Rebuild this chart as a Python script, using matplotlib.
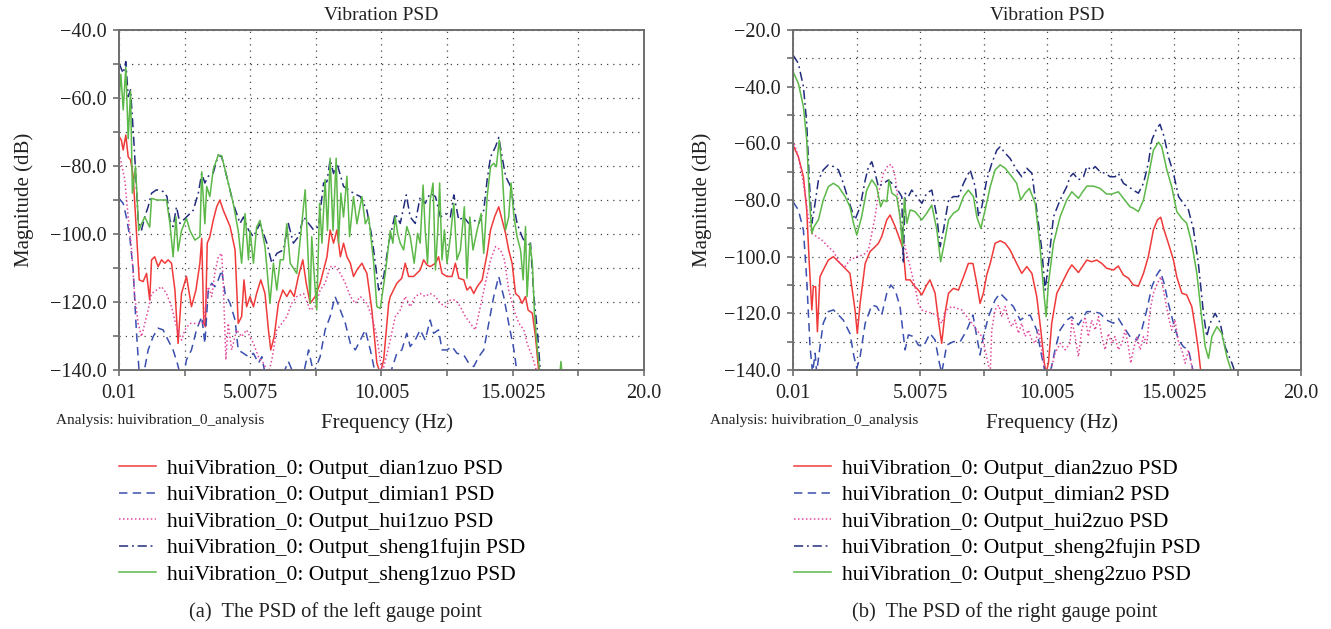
import matplotlib
matplotlib.use("Agg")
import matplotlib.pyplot as plt
import numpy as np
from matplotlib.lines import Line2D

plt.rcParams["font.family"] = ["Liberation Serif", "DejaVu Serif"]

# ---- axis ticks ----
x_ticks = [0.01, 5.0075, 10.005, 15.0025, 20.0]
x_tick_labels = ["0.01", "5.0075", "10.005", "15.0025", "20.0"]
x_minor_ticks = [2.50875, 7.50625, 12.50375, 17.50125]
left_y_ticks = [-40, -60, -80, -100, -120, -140]
left_y_minor = [-50, -70, -90, -110, -130]
right_y_ticks = [-20, -40, -60, -80, -100, -120, -140]
right_y_minor = [-30, -50, -70, -90, -110, -130]

left_labels = [
    "huiVibration_0: Output_dian1zuo PSD",
    "huiVibration_0: Output_dimian1 PSD",
    "huiVibration_0: Output_hui1zuo PSD",
    "huiVibration_0: Output_sheng1fujin PSD",
    "huiVibration_0: Output_sheng1zuo PSD",
]
right_labels = [
    "huiVibration_0: Output_dian2zuo PSD",
    "huiVibration_0: Output_dimian2 PSD",
    "huiVibration_0: Output_hui2zuo PSD",
    "huiVibration_0: Output_sheng2fujin PSD",
    "huiVibration_0: Output_sheng2zuo PSD",
]

# ---- left gauge point (Hz, dB) ----
left_red = [
    (0.01, -71.2), (0.10, -72.4), (0.17, -75.3), (0.27, -70.9), (0.36, -77.3), (0.45, -78.2),
    (0.55, -83), (0.67, -98.8), (0.78, -113.5), (0.93, -114), (1.06, -111.6), (1.18, -119.4),
    (1.25, -107.6), (1.37, -106.7), (1.50, -109.6), (1.63, -107.6), (1.76, -108.6), (1.88, -107.6),
    (2.01, -108.6), (2.14, -116.5), (2.26, -132.2), (2.39, -117.5), (2.58, -112.5), (2.77, -121.4),
    (2.94, -116.5), (3.09, -108.6), (3.16, -101.3), (3.24, -126.3), (3.30, -127.3), (3.37, -102.7),
    (3.47, -100.8), (3.60, -95.9), (3.73, -92), (3.85, -90), (3.98, -93), (4.24, -97.8),
    (4.43, -104.7), (4.55, -126.3), (4.68, -124.3), (4.77, -113.5), (4.87, -121.4), (5.00, -118.4),
    (5.13, -121.4), (5.25, -117.5), (5.41, -113.5), (5.57, -117.5), (5.70, -128.2), (5.79, -134.1),
    (5.92, -130.2), (6.08, -120.4), (6.25, -116.5), (6.40, -118.4), (6.53, -116.5), (6.68, -118.4),
    (6.84, -112.5), (7.01, -107.6), (7.14, -114.5), (7.29, -120.4), (7.48, -118.4), (7.67, -114.5),
    (7.80, -110.6), (7.93, -106.7), (8.05, -98.8), (8.18, -102.7), (8.31, -98.8), (8.44, -106.7),
    (8.56, -102.7), (8.69, -106.7), (8.82, -108.6), (8.94, -112.5), (9.07, -110.6), (9.26, -108.6),
    (9.45, -111.6), (9.64, -122.4), (9.83, -138), (9.96, -141), (10.09, -137), (10.28, -120.4),
    (10.34, -118.4), (10.59, -114.5), (10.78, -113), (10.91, -108.6), (11.04, -112.5), (11.23, -112.5),
    (11.48, -110.6), (11.61, -107.6), (11.74, -109.1), (11.86, -109.6), (12.06, -108.6), (12.18, -106.7),
    (12.31, -111.6), (12.50, -112.5), (12.69, -112.5), (12.82, -108.6), (12.95, -113), (13.14, -113.5),
    (13.26, -116.5), (13.39, -115.5), (13.52, -117.5), (13.65, -115.5), (13.84, -113.5), (14.03, -105.7),
    (14.16, -98.8), (14.31, -95), (14.47, -92), (14.60, -95.9), (14.73, -99.8), (14.85, -104.7),
    (14.98, -108.6), (15.11, -117.5), (15.24, -118.4), (15.36, -120.4), (15.49, -118.4), (15.59, -122.4),
    (15.75, -123.3), (15.87, -130.2), (16.00, -141),
]
left_blue = [
    (0.01, -89.5), (0.17, -91), (0.29, -95), (0.42, -100.8), (0.55, -110.6), (0.67, -128.2),
    (0.78, -141), (0.93, -142), (1.12, -134.1), (1.31, -130.2), (1.50, -127.7), (1.69, -128.2),
    (1.88, -131.2), (2.07, -134.1), (2.23, -138), (2.33, -141), (2.46, -142), (2.58, -137),
    (2.77, -134.1), (2.96, -128.2), (3.16, -124.3), (3.28, -132.2), (3.41, -116.5), (3.54, -114.5),
    (3.66, -115.5), (3.79, -113.5), (3.92, -110.6), (4.05, -117.5), (4.24, -120.4), (4.43, -125.3),
    (4.55, -134.1), (4.75, -135.1), (4.94, -136.1), (5.13, -135.1), (5.32, -138), (5.45, -136.1),
    (5.57, -141), (6.27, -141), (6.46, -137.5), (6.65, -141), (7.04, -141), (7.23, -134.1),
    (7.42, -141), (7.67, -136.1), (7.86, -128.2), (8.05, -124.3), (8.24, -118.4), (8.44, -122.4),
    (8.63, -126.3), (8.82, -132.2), (9.01, -134.1), (9.20, -131.2), (9.39, -128.2), (9.58, -134.1),
    (9.77, -141), (10.34, -141), (10.47, -138), (10.59, -135.1), (10.78, -134.1), (10.97, -129.2),
    (11.10, -133.1), (11.29, -131.2), (11.48, -128.2), (11.67, -131.2), (11.86, -125.3), (11.99, -129.2),
    (12.18, -128.2), (12.31, -134.1), (12.50, -134.1), (12.69, -133.1), (12.88, -135.1), (13.14, -135.6),
    (13.33, -138), (13.52, -139), (13.71, -136.1), (13.90, -134.1), (14.09, -126.3), (14.28, -118.4),
    (14.47, -112.5), (14.66, -118.4), (14.85, -126.3), (15.05, -134.1), (15.17, -141),
]
left_pink = [
    (0.01, -76.3), (0.10, -79.2), (0.23, -84), (0.36, -95), (0.48, -103.7), (0.61, -118.4),
    (0.74, -126.3), (0.87, -130.2), (0.99, -126.3), (1.12, -122.4), (1.25, -117.5), (1.44, -116.5),
    (1.63, -115.5), (1.82, -117.5), (2.01, -121.4), (2.20, -127.3), (2.39, -131.2), (2.52, -128.2),
    (2.71, -126.3), (2.96, -126.3), (3.22, -126.3), (3.41, -115.5), (3.54, -118.4), (3.66, -111.6),
    (3.79, -106.7), (3.92, -105.7), (3.98, -114.5), (4.08, -137), (4.17, -126.3), (4.30, -134.1),
    (4.49, -128.2), (4.68, -130.2), (4.87, -128.2), (5.13, -132.2), (5.32, -136.1), (5.51, -138),
    (5.70, -141), (5.83, -137), (6.02, -128.2), (6.21, -126.3), (6.40, -124.3), (6.59, -120.4),
    (6.78, -118.4), (7.04, -117.5), (7.29, -122.4), (7.48, -121.4), (7.67, -116.5), (7.86, -114.5),
    (8.05, -109.6), (8.24, -109.6), (8.44, -111.6), (8.63, -114.5), (8.82, -118.4), (9.01, -120.4),
    (9.20, -118.4), (9.45, -120.4), (9.64, -124.3), (9.83, -130.2), (10.03, -141), (10.22, -135.1),
    (10.34, -131.2), (10.53, -124.3), (10.72, -122.4), (10.91, -118.4), (11.10, -121.4), (11.29, -118.4),
    (11.48, -117.5), (11.67, -118.4), (11.86, -117.5), (12.06, -118.4), (12.25, -120.4), (12.44, -121.4),
    (12.63, -119.4), (12.82, -119.4), (13.01, -121.4), (13.20, -124.3), (13.39, -126.3), (13.58, -128.2),
    (13.77, -121.4), (13.96, -114.5), (14.16, -107.6), (14.35, -103.7), (14.54, -104.7), (14.69, -107.6),
    (14.85, -116.5), (15.05, -122.4), (15.24, -126.3), (15.43, -128.2), (15.55, -132.2), (15.75, -136.1),
    (15.94, -141),
]
left_navy = [
    (0.01, -49.8), (0.17, -52.7), (0.27, -49.3), (0.36, -59.6), (0.45, -57.6), (0.55, -69.4),
    (0.64, -81.2), (0.74, -95.9), (0.87, -98.8), (0.99, -95), (1.12, -92), (1.25, -88),
    (1.44, -87), (1.69, -87.5), (1.84, -89), (1.95, -95.9), (2.07, -97.8), (2.20, -92),
    (2.33, -96.9), (2.58, -95), (2.84, -93), (3.03, -88), (3.16, -82.2), (3.28, -85),
    (3.41, -83), (3.60, -82), (3.79, -76.8), (3.92, -77.3), (4.11, -83), (4.36, -91),
    (4.62, -96.9), (4.75, -95), (4.94, -98.8), (5.13, -100.8), (5.38, -96.9), (5.64, -102.7),
    (5.83, -108.6), (6.02, -105.7), (6.27, -104.7), (6.46, -96.9), (6.65, -102.7), (6.84, -100.8),
    (7.04, -95), (7.23, -96.9), (7.42, -98.8), (7.61, -97.8), (7.80, -85), (7.93, -84.6),
    (8.05, -78.2), (8.18, -82.2), (8.31, -79.2), (8.56, -86), (8.75, -87), (8.94, -88),
    (9.20, -89), (9.45, -93), (9.64, -100.8), (9.77, -108.6), (9.90, -116.5), (10.09, -112.5),
    (10.28, -102.7), (10.53, -94), (10.72, -96.9), (10.95, -88.5), (11.10, -95), (11.29, -96.9),
    (11.48, -89), (11.67, -91), (11.86, -88), (12.06, -89), (12.25, -95), (12.44, -94),
    (12.63, -95), (12.76, -88.5), (12.95, -95.9), (13.14, -95), (13.33, -96.9), (13.52, -95.9),
    (13.71, -96.9), (13.90, -93), (14.03, -84), (14.16, -77.3), (14.35, -74.3), (14.47, -71.6),
    (14.60, -77.3), (14.73, -83), (14.92, -86), (15.05, -92), (15.17, -96.9), (15.36, -100.8),
    (15.53, -103.7), (15.68, -102.7), (15.81, -118.4), (15.94, -128.2), (16.06, -141),
]
left_green = [
    (0.01, -61), (0.08, -53), (0.17, -63.5), (0.27, -51), (0.36, -72), (0.45, -58),
    (0.52, -88), (0.64, -80), (0.76, -99), (0.87, -97), (0.99, -95), (1.18, -98),
    (1.25, -89.5), (1.44, -90), (1.82, -90), (1.95, -97), (2.07, -106.7), (2.18, -95),
    (2.26, -105), (2.39, -99), (2.58, -95.4), (2.71, -99), (2.90, -101.8), (3.09, -100.8),
    (3.16, -81.7), (3.28, -97), (3.35, -86), (3.47, -89), (3.60, -81), (3.79, -76.8),
    (3.92, -77), (4.11, -83), (4.36, -91), (4.55, -99), (4.68, -108.6), (4.81, -94),
    (4.94, -107.6), (5.00, -99), (5.13, -108.6), (5.25, -98), (5.38, -96), (5.57, -103.7),
    (5.76, -120.4), (5.89, -108.6), (6.02, -116.5), (6.15, -107.6), (6.27, -107.6), (6.40, -97),
    (6.53, -108.6), (6.78, -111.6), (6.97, -97), (7.10, -87), (7.19, -102.7), (7.29, -120.4),
    (7.35, -100.8), (7.44, -111.6), (7.54, -122.4), (7.65, -91), (7.74, -102.7), (7.86, -84),
    (7.95, -99), (8.05, -77.7), (8.16, -99), (8.28, -77.7), (8.37, -102.7), (8.46, -88),
    (8.56, -95), (8.69, -83), (8.79, -100.8), (8.94, -89), (9.07, -97), (9.26, -89),
    (9.39, -97), (9.52, -95), (9.71, -108.6), (9.83, -121.4), (9.96, -121.9), (10.15, -111.6),
    (10.34, -99), (10.44, -102.7), (10.53, -95), (10.62, -99.8), (10.72, -102.7), (10.85, -104.7),
    (10.97, -97.8), (11.10, -100.8), (11.25, -108.6), (11.38, -99.8), (11.48, -102.7), (11.59, -85.6),
    (11.67, -98.8), (11.76, -108.6), (11.86, -90), (11.97, -85), (12.06, -110.6), (12.15, -98.8),
    (12.22, -85), (12.31, -107.6), (12.40, -98.8), (12.50, -108.6), (12.63, -100.8), (12.76, -91),
    (12.88, -107.6), (13.01, -104.7), (13.16, -92), (13.26, -113), (13.37, -95), (13.49, -104.7),
    (13.65, -98.8), (13.80, -94), (13.90, -105.7), (14.03, -89), (14.16, -80.2), (14.28, -79.2),
    (14.38, -80.2), (14.49, -72.4), (14.60, -81.2), (14.73, -98.8), (14.85, -95), (14.94, -85),
    (15.05, -95), (15.17, -100.8), (15.30, -104.7), (15.40, -113.5), (15.49, -97.8), (15.55, -118.4),
    (15.66, -102.7), (15.75, -108.6), (15.83, -123.3), (15.94, -134), (16.04, -141),
    (16.40, np.nan), (16.80, -141), (16.84, -137.5), (16.88, -141),
]

# ---- right gauge point (Hz, dB) ----
right_red = [
    (0.01, -60.6), (0.22, -64.7), (0.42, -71.8), (0.55, -83.5), (0.65, -102.4), (0.75, -118.8),
    (0.81, -110.6), (0.90, -110.6), (0.97, -126.5), (1.07, -107.1), (1.20, -104.7), (1.40, -101.2),
    (1.60, -100), (1.80, -101.8), (1.99, -103.5), (2.25, -105.9), (2.45, -118.8), (2.54, -127.1),
    (2.65, -116.5), (2.85, -102.4), (3.04, -98.2), (3.24, -96.5), (3.37, -95.3), (3.50, -92.9),
    (3.70, -87), (3.83, -85.3), (4.03, -89.4), (4.22, -94.1), (4.35, -97.6), (4.45, -108.2),
    (4.62, -108.2), (4.81, -110.6), (4.94, -111.8), (5.08, -113.5), (5.27, -110), (5.40, -108.2),
    (5.60, -112.9), (5.73, -122.4), (5.86, -130.6), (5.99, -120), (6.13, -112.9), (6.32, -111.2),
    (6.52, -111.8), (6.72, -107.1), (6.91, -102.4), (7.09, -102.4), (7.24, -109.4), (7.37, -116.5),
    (7.50, -112.9), (7.63, -106.5), (7.77, -102.4), (7.96, -95.3), (8.16, -94.4), (8.36, -95.3),
    (8.55, -97.6), (8.81, -102.4), (9.01, -105.9), (9.21, -103.5), (9.41, -105.9), (9.60, -114.1),
    (9.76, -125.9), (9.90, -137.6), (9.97, -141), (10.06, -137.6), (10.19, -123.5), (10.39, -112.9),
    (10.59, -109.4), (10.85, -104.7), (10.98, -102.9), (11.24, -105.6), (11.57, -101.2), (11.76, -101.8),
    (11.96, -101.2), (12.16, -102.4), (12.35, -104.1), (12.62, -104.7), (12.81, -103.3), (13.01, -106.5),
    (13.21, -107.6), (13.40, -110), (13.60, -110.4), (13.80, -105.9), (13.99, -100), (14.19, -90.6),
    (14.35, -87), (14.48, -86.1), (14.61, -90.6), (14.78, -95.3), (14.98, -101.2), (15.11, -107.1),
    (15.31, -112.9), (15.50, -113.5), (15.70, -117.6), (15.83, -124.7), (15.96, -132.9), (16.06, -141),
]
right_blue = [
    (0.01, -80.6), (0.22, -83.5), (0.42, -90.6), (0.55, -108.2), (0.68, -131.8), (0.78, -141),
    (0.88, -134.1), (0.94, -141), (1.07, -131.8), (1.20, -123.5), (1.40, -119.4), (1.60, -118.8),
    (1.80, -120.6), (1.99, -122.4), (2.25, -127.1), (2.41, -135.3), (2.52, -139.4), (2.65, -135.3),
    (2.85, -123.5), (3.11, -117.1), (3.30, -117.6), (3.50, -120.6), (3.70, -112.9), (3.86, -110),
    (4.03, -111.8), (4.22, -117.6), (4.42, -132.9), (4.55, -127.6), (4.75, -128.2), (4.94, -131.2),
    (5.14, -131.8), (5.40, -127.1), (5.60, -129.4), (5.77, -137.6), (5.86, -141), (6.06, -131.2),
    (6.32, -130), (6.59, -130), (6.85, -125.9), (7.09, -120.6), (7.24, -128.2), (7.37, -134.7),
    (7.50, -128.2), (7.70, -121.2), (7.96, -115.3), (8.16, -112.9), (8.42, -115.3), (8.68, -117.6),
    (8.95, -122.4), (9.14, -121.2), (9.34, -120.6), (9.60, -125.9), (9.80, -135.3), (9.93, -141),
    (10.13, -141), (10.32, -132.9), (10.52, -125.9), (10.78, -122.4), (10.98, -121.2), (11.24, -124.1),
    (11.57, -119.4), (11.83, -119.4), (12.09, -120), (12.35, -122.4), (12.62, -123.5), (12.81, -121.8),
    (13.01, -124.7), (13.27, -128.2), (13.54, -129.4), (13.73, -125.9), (13.93, -118.8), (14.13, -110.6),
    (14.32, -106.5), (14.45, -104.7), (14.61, -109.4), (14.78, -116.5), (14.98, -123.5), (15.18, -129.4),
    (15.37, -131.8), (15.57, -132.9), (15.77, -141),
]
right_pink = [
    (0.01, -58.8), (0.22, -64.7), (0.42, -74.1), (0.61, -85.9), (0.75, -91.8), (0.94, -92.9),
    (1.14, -94.1), (1.40, -96.5), (1.60, -98.2), (1.86, -102.4), (2.06, -103.5), (2.25, -101.2),
    (2.52, -100), (2.78, -99.4), (2.98, -97.6), (3.11, -91.8), (3.24, -85.9), (3.37, -77.6),
    (3.57, -70.6), (3.76, -67.6), (3.90, -67.6), (4.03, -71.8), (4.16, -81.2), (4.29, -91.8),
    (4.42, -96.5), (4.55, -101.2), (4.68, -105.9), (4.81, -110.6), (4.94, -116.5), (5.08, -118.8),
    (5.27, -119.4), (5.47, -120), (5.67, -120.6), (5.86, -123.5), (6.06, -118.8), (6.26, -117.6),
    (6.45, -118.2), (6.65, -118.8), (6.85, -121.2), (7.05, -123.5), (7.24, -125.9), (7.44, -128.2),
    (7.63, -135.3), (7.77, -141), (7.83, -125.9), (7.96, -118.8), (8.10, -117.1), (8.23, -121.2),
    (8.36, -117.6), (8.49, -122.4), (8.62, -124.7), (8.75, -122.4), (8.88, -127.1), (9.01, -123.5),
    (9.14, -128.2), (9.27, -125.9), (9.41, -129.4), (9.54, -130.6), (9.67, -125.9), (9.80, -132.9),
    (9.93, -141), (10.13, -141), (10.32, -134.1), (10.52, -130.6), (10.72, -132.9), (10.91, -130.6),
    (10.98, -122.4), (11.11, -128.2), (11.24, -135.3), (11.37, -125.9), (11.50, -121.2), (11.63, -128.2),
    (11.76, -122.4), (11.90, -125.9), (12.03, -121.2), (12.16, -128.2), (12.29, -132.9), (12.42, -127.1),
    (12.55, -130.6), (12.68, -128.2), (12.81, -132.9), (12.95, -130.6), (13.08, -125.9), (13.21, -131.8),
    (13.30, -137.6), (13.40, -132.9), (13.54, -128.2), (13.67, -132.9), (13.80, -128.2), (13.93, -130.6),
    (14.06, -118.8), (14.19, -112.9), (14.35, -109.4), (14.48, -107.1), (14.61, -112.9), (14.78, -121.2),
    (14.91, -125.9), (15.04, -122.4), (15.18, -130.6), (15.31, -132.9), (15.44, -137.6), (15.57, -132.9),
    (15.70, -138.8), (15.77, -141),
]
right_navy = [
    (0.01, -28.8), (0.22, -31.8), (0.42, -40), (0.55, -53), (0.65, -73), (0.75, -88.2),
    (0.84, -83.5), (1.01, -73), (1.20, -69.4), (1.40, -67.6), (1.60, -68.2), (1.80, -69.4),
    (1.99, -74.1), (2.19, -80), (2.45, -87), (2.65, -82.4), (2.85, -73), (2.98, -68.2),
    (3.11, -66.5), (3.24, -70.6), (3.37, -75.3), (3.57, -74.1), (3.76, -73), (3.90, -74.1),
    (4.09, -75.9), (4.29, -78.8), (4.35, -102.4), (4.42, -77.6), (4.55, -78.8), (4.68, -76.5),
    (4.88, -78.8), (5.08, -81.2), (5.27, -77.6), (5.47, -76.5), (5.67, -85.9), (5.80, -96.5),
    (5.93, -90.6), (6.13, -80), (6.32, -78.8), (6.52, -78.8), (6.72, -74.1), (6.98, -69.4),
    (7.18, -75.3), (7.31, -85.9), (7.44, -82.4), (7.63, -73), (7.83, -67.1), (8.03, -62.4),
    (8.16, -61.2), (8.36, -63.5), (8.55, -65.3), (8.81, -69.4), (9.01, -71.8), (9.21, -68.8),
    (9.41, -70.6), (9.60, -83.5), (9.80, -97.6), (9.93, -111.8), (10.06, -102.4), (10.26, -85.9),
    (10.52, -80), (10.78, -75.3), (10.91, -71.8), (11.04, -70.6), (11.24, -72.9), (11.44, -71.8),
    (11.57, -68.2), (11.76, -69.4), (11.90, -68.2), (12.09, -70), (12.29, -70.6), (12.49, -71.8),
    (12.68, -71.8), (12.81, -70.6), (13.01, -74.1), (13.21, -75.3), (13.40, -76.5), (13.60, -77.6),
    (13.80, -74.1), (13.99, -67.1), (14.13, -58.8), (14.32, -54.7), (14.45, -53.3), (14.61, -57.6),
    (14.78, -64.7), (14.98, -70.6), (15.18, -78.8), (15.37, -81.2), (15.57, -83.5), (15.77, -90.6),
    (15.96, -102.4), (16.16, -120), (16.29, -128.2), (16.42, -123.5), (16.62, -120), (16.82, -123.5),
    (17.01, -131.8), (17.28, -137.6), (17.41, -141),
]
right_green = [
    (0.01, -34.7), (0.22, -38.8), (0.42, -47.1), (0.55, -58.8), (0.65, -78.8), (0.75, -91.8),
    (0.84, -89.4), (1.01, -87), (1.20, -80), (1.40, -75.3), (1.60, -74.1), (1.80, -75.3),
    (2.06, -78.8), (2.25, -82.4), (2.39, -88.2), (2.52, -92.4), (2.71, -85.9), (2.91, -76.5),
    (3.11, -72.9), (3.30, -75.3), (3.46, -82.4), (3.57, -80), (3.70, -80.6), (3.79, -72.9),
    (3.90, -77.6), (4.09, -78.8), (4.22, -85.9), (4.32, -96.5), (4.39, -79.4), (4.49, -88.2),
    (4.62, -83.5), (4.81, -84.1), (5.08, -87), (5.27, -84.7), (5.47, -81.8), (5.67, -90.6),
    (5.82, -101.8), (5.96, -95.3), (6.13, -87), (6.32, -84.7), (6.52, -83.5), (6.72, -78.8),
    (6.91, -76.5), (7.11, -78.8), (7.24, -85.9), (7.40, -90), (7.57, -83.5), (7.77, -75.3),
    (7.96, -69.4), (8.16, -67.6), (8.36, -68.8), (8.62, -71.8), (8.81, -74.1), (8.97, -80),
    (9.14, -77.6), (9.31, -75.9), (9.54, -81.2), (9.73, -96.5), (9.87, -111.8), (9.97, -121.2),
    (10.06, -109.4), (10.26, -95.3), (10.52, -85.9), (10.78, -80), (10.98, -77.1), (11.24, -79.4),
    (11.37, -77.6), (11.57, -75.1), (11.83, -75.1), (12.09, -75.9), (12.35, -77.9), (12.55, -77.9),
    (12.81, -77.1), (13.01, -79.4), (13.27, -82.4), (13.40, -82.9), (13.60, -84.1), (13.80, -80),
    (13.99, -71.8), (14.19, -62.4), (14.39, -59.6), (14.52, -61.2), (14.72, -69.4), (14.91, -75.3),
    (15.11, -84.1), (15.31, -86.5), (15.50, -88.2), (15.70, -95.3), (15.90, -105.9), (16.10, -122.4),
    (16.23, -131.8), (16.36, -135.9), (16.49, -128.2), (16.69, -124.7), (16.88, -127.1), (17.08, -135.3),
    (17.28, -141),
]

# colour, linestyle, linewidth for the five traces (same order as the legend)
styles = [
    ("#f03a3a", "-", 1.1),
    ("#3a4fae", (0, (5.5, 3.5)), 1.1),
    ("#e2479c", (0, (1, 1.6)), 1.1),
    ("#222c7c", (0, (6, 2.5, 1.2, 2.5)), 1.1),
    ("#5cb848", "-", 1.1),
]


def fmt_db(v):
    return f"{v:.1f}".replace("-", "\u2212")


def draw_panel(ax, series, ylim, yticks, yminor):
    for pts, (color, ls, lw) in zip(series, styles):
        arr = np.array(pts, dtype=float)
        ax.plot(arr[:, 0], arr[:, 1], color=color, linestyle=ls, linewidth=lw)

    ax.set_xlim(0.01, 20.0)
    ax.set_ylim(*ylim)
    ax.set_xticks(x_ticks)
    ax.set_xticklabels(x_tick_labels)
    ax.set_xticks(x_minor_ticks, minor=True)
    ax.set_yticks(yticks)
    ax.set_yticklabels([fmt_db(v) for v in yticks])
    ax.set_yticks(yminor, minor=True)

    ax.grid(True, which="both", color="#444444", linestyle=(0, (1, 4)), linewidth=0.9)
    ax.set_axisbelow(True)
    for s in ax.spines.values():
        s.set_color("#6e6e6e")
        s.set_linewidth(1.4)
    ax.tick_params(which="both", direction="out", length=4, width=1.2, color="#6e6e6e",
                   labelsize=14.5, labelcolor="#222222")
    ax.tick_params(axis="x", pad=6)
    ax.tick_params(axis="y", pad=5)

    ax.set_title("Vibration PSD", fontsize=14, pad=7, color="#222222")
    ax.set_xlabel("Frequency (Hz)", fontsize=15, color="#222222")
    ax.xaxis.set_label_coords(0.51, -0.128)
    ax.set_ylabel("Magnitude (dB)", fontsize=15, color="#222222")


def main():
    fig = plt.figure(figsize=(13.31, 6.29), dpi=100)

    ax_l = fig.add_axes([0.0894, 0.4118, 0.3944, 0.5405])
    ax_r = fig.add_axes([0.5958, 0.4118, 0.3817, 0.5405])

    draw_panel(ax_l, [left_red, left_blue, left_pink, left_navy, left_green],
               (-140, -40), left_y_ticks, left_y_minor)
    draw_panel(ax_r, [right_red, right_blue, right_pink, right_navy, right_green],
               (-140, -20), right_y_ticks, right_y_minor)
    ax_l.yaxis.set_label_coords(-0.162, 0.5)
    ax_r.yaxis.set_label_coords(-0.159, 0.5)

    handles = [Line2D([], [], color=c, linestyle=ls, linewidth=lw) for c, ls, lw in styles]
    leg_kw = dict(loc="upper left", frameon=False, fontsize=15.5, handlelength=1.7,
                  handletextpad=0.55, labelspacing=0.3, borderpad=0, borderaxespad=0)
    fig.legend(handles, left_labels, bbox_to_anchor=(0.0894, 0.271), **leg_kw)
    fig.legend(handles, right_labels, bbox_to_anchor=(0.5965, 0.271), **leg_kw)

    fig.text(0.1202, 0.3307, "Analysis: huivibration_0_analysis", fontsize=11,
             ha="center", va="center", color="#222222")
    fig.text(0.6116, 0.3307, "Analysis: huivibration_0_analysis", fontsize=11,
             ha="center", va="center", color="#222222")

    fig.text(0.2517, 0.027, "(a)  The PSD of the left gauge point", fontsize=14.8,
             ha="center", va="center", color="#222222")
    fig.text(0.7551, 0.027, "(b)  The PSD of the right gauge point", fontsize=14.8,
             ha="center", va="center", color="#222222")

    fig.savefig("out.png", dpi=100, facecolor="white")
    plt.close(fig)


if __name__ == "__main__":
    main()
